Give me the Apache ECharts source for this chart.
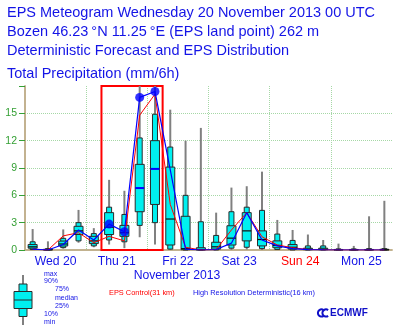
<!DOCTYPE html>
<html><head><meta charset="utf-8">
<script src="https://cdn.jsdelivr.net/npm/echarts@6/dist/echarts.min.js"></script>
<style>html,body{margin:0;padding:0;background:#fff}#c{width:400px;height:332px}</style>
</head><body><div id="c"></div>
<script>
// ---- data ----
const hours = [3,9,15,21,27,33,39,45,51,57,63,69,75,81,87,93,99,105,111,117,123,129,135,141];
const dayLabels = ['Wed 20','Thu 21','Fri 22','Sat 23','Sun 24','Mon 25'];
const epsMin = [0, 0, 0.15, 0.8, 0.3, 0.6, 0.2, 1.4, 0.6, 0, 0, 0, 0, 0, 0.05, 0, 0, 0, 0, 0, 0, 0, 0, 0];
const epsP10 = [0.05, 0, 0.26, 1.0, 0.45, 1.1, 0.9, 2.7, 3.0, 0.1, 0, 0, 0, 0.2, 0.3, 0.15, 0.05, 0, 0, 0, 0, 0, 0, 0];
const epsP25 = [0.2, 0, 0.44, 1.7, 0.7, 1.7, 1.5, 4.2, 5.0, 0.55, 0.03, 0, 0.1, 0.55, 1.0, 0.45, 0.25, 0.1, 0.03, 0.03, 0, 0, 0, 0];
const epsMed = [0.35, 0.03, 0.66, 2.1, 1.0, 2.5, 1.9, 6.8, 8.9, 3.4, 0.15, 0.05, 0.35, 1.3, 2.1, 1.15, 0.5, 0.3, 0.08, 0.08, 0.03, 0.03, 0.03, 0.03];
const epsP75 = [0.6, 0.08, 0.98, 2.6, 1.5, 4.1, 2.7, 9.4, 12.0, 9.1, 3.7, 0.25, 0.85, 2.66, 4.1, 2.1, 1.0, 0.6, 0.2, 0.2, 0.06, 0.06, 0.06, 0.08];
const epsP90 = [0.9, 0.15, 1.28, 3.0, 1.8, 4.7, 3.9, 12.3, 14.9, 11.3, 6.0, 3.1, 1.6, 4.2, 4.7, 4.35, 1.75, 1.05, 0.45, 0.45, 0.12, 0.12, 0.15, 0.15];
const epsMax = [2.3, 0.95, 2.26, 4.4, 2.4, 7.7, 6.5, 18, 18, 15.4, 12, 13.4, 4.1, 6.85, 7.0, 8.6, 3.3, 2.2, 1.7, 1.1, 0.7, 0.45, 3.7, 5.4];
const control = [0.1, 0.0, 1.55, 1.9, 0.8, 1.5, 1.0, 14.8, 17.1, 5.0, 0.3, 0.0, 0.05, 2.2, 4.1, 1.45, 0.55, 0.25, 0.05, 0.02, 0, 0, 0, 0];
const hres = [0.1, 0.0, 0.6, 2.2, 1.1, 2.84, 2.0, 16.75, 17.4, 8.8, 0.1, 0.0, 0.05, 0.75, 4.1, 1.1, 0.45, 0.15, 0.05, 0.02, 0, 0, 0, 0];
const hresDotIdx = [5, 6, 7, 8];
const blueMedianIdx = [7, 8];
const highlightRange = [30, 54];
const titleLines = [
  'EPS Meteogram Wednesday 20 November 2013 00 UTC',
  'Bozen 46.23\u2009\u00b0N 11.25\u2009\u00b0E (EPS land point) 262 m',
  'Deterministic Forecast and EPS Distribution',
  'Total Precipitation (mm/6h)'
];
const keyLabels = ['max', '90%', '75%', 'median', '25%', '10%', 'min'];

// ---- style ----
const BLUE = '#1414e6', RED = '#ff0000', GREEN = '#35a035', TAN = '#bfad88', GRIDC = '#a6d8a6';
const CYAN = '#00f0f0', EDGE = '#2a2a2a', WHISK = '#808080';
const FONT = '"Liberation Sans", Arial, sans-serif';

const boxData = hours.map((h, i) => [h, epsMin[i], epsP10[i], epsP25[i], epsMed[i], epsP75[i], epsP90[i], epsMax[i], blueMedianIdx.includes(i) ? 1 : 0]);

function renderBox(params, api) {
  const t = api.value(0);
  const c = k => api.coord([t, api.value(k)]);
  const pMin = c(1), p10 = c(2), p25 = c(3), pMed = c(4), p75 = c(5), p90 = c(6), pMax = c(7);
  const cx = pMin[0], nw = 5, ww = 9;
  const blue = api.value(8) === 1;
  return {
    type: 'group',
    children: [
      { type: 'line', shape: { x1: cx, y1: pMin[1], x2: cx, y2: pMax[1] }, style: { stroke: WHISK, lineWidth: 2 } },
      { type: 'rect', shape: { x: cx - nw / 2, y: p90[1], width: nw, height: Math.max(p10[1] - p90[1], 0.5) }, style: { fill: CYAN, stroke: EDGE, lineWidth: 1 } },
      { type: 'rect', shape: { x: cx - ww / 2, y: p75[1], width: ww, height: Math.max(p25[1] - p75[1], 0.5) }, style: { fill: CYAN, stroke: EDGE, lineWidth: 1 } },
      { type: 'line', shape: { x1: cx - ww / 2, y1: pMed[1], x2: cx + ww / 2, y2: pMed[1] }, style: { stroke: blue ? '#0000ff' : '#111', lineWidth: blue ? 2 : 1.2 } }
    ]
  };
}

const graphics = [];
const titleY = [13, 32, 51, 74];
titleLines.forEach((t, i) => graphics.push({
  type: 'text', left: 7, top: titleY[i] - 8,
  style: { text: t, font: '14.5px ' + FONT, fill: BLUE }
}));
graphics.push({ type: 'text', style: { text: 'November 2013', x: 177, y: 276, font: '12.2px ' + FONT, fill: BLUE, textAlign: 'center', textVerticalAlign: 'middle', align: 'center', verticalAlign: 'middle' } });
// box legend key
graphics.push({ type: 'line', shape: { x1: 23, y1: 275, x2: 23, y2: 325 }, style: { stroke: WHISK, lineWidth: 2 } });
graphics.push({ type: 'rect', shape: { x: 19, y: 284, width: 8, height: 32.5 }, style: { fill: CYAN, stroke: EDGE, lineWidth: 1 } });
graphics.push({ type: 'rect', shape: { x: 14, y: 291.5, width: 18, height: 17 }, style: { fill: CYAN, stroke: EDGE, lineWidth: 1 } });
graphics.push({ type: 'line', shape: { x1: 14, y1: 300, x2: 32, y2: 300 }, style: { stroke: EDGE, lineWidth: 1 } });
const keyPos = [[44, 274], [44, 281], [55, 289.5], [55, 298], [55, 306.5], [44, 314.5], [44, 322]];
keyLabels.forEach((t, i) => graphics.push({ type: 'text', style: { text: t, x: keyPos[i][0], y: keyPos[i][1], font: '7px ' + FONT, fill: BLUE, textVerticalAlign: 'middle', verticalAlign: 'middle' } }));
graphics.push({ type: 'text', style: { text: 'EPS Control(31 km)', x: 109, y: 293, font: '7.4px ' + FONT, fill: RED, textVerticalAlign: 'middle', verticalAlign: 'middle' } });
graphics.push({ type: 'text', style: { text: 'High Resolution Deterministic(16 km)', x: 193, y: 293, font: '7.4px ' + FONT, fill: BLUE, textVerticalAlign: 'middle', verticalAlign: 'middle' } });
// ECMWF logo
graphics.push({ type: 'arc', shape: { cx: 321.5, cy: 313, r: 3.6, startAngle: Math.PI * 0.3, endAngle: Math.PI * 1.7 }, style: { stroke: '#1010c8', lineWidth: 2, fill: null } });
graphics.push({ type: 'arc', shape: { cx: 326, cy: 313, r: 3.6, startAngle: Math.PI * 0.3, endAngle: Math.PI * 1.7 }, style: { stroke: '#1010c8', lineWidth: 2, fill: null } });
graphics.push({ type: 'text', style: { text: 'ECMWF', x: 330, y: 313, font: 'bold 10px ' + FONT, fill: '#1010c8', textVerticalAlign: 'middle', verticalAlign: 'middle' } });

const chart = echarts.init(document.getElementById('c'), null, { renderer: 'canvas' });
chart.setOption({
  animation: false,
  backgroundColor: '#fff',
  grid: { left: 25, right: 8, top: 86, bottom: 82, show: false },
  xAxis: [
    {
      type: 'value', min: 0, max: 144, interval: 12, position: 'bottom',
      axisLine: { show: true, lineStyle: { color: TAN, width: 1.5 } },
      axisTick: { show: false }, splitLine: { show: false },
      axisLabel: {
        margin: 6, fontSize: 12.2, fontFamily: FONT,
        formatter: v => ((v - 12) % 24 === 0 && v < 144) ? dayLabels[(v - 12) / 24] : '',
        color: (v) => ((v - 12) / 24 === 4 ? RED : BLUE)
      }
    },
    {
      type: 'value', min: 0, max: 144, interval: 24, position: 'top',
      axisLine: { show: true, lineStyle: { color: TAN, width: 1.5 } }, axisLabel: { show: false },
      axisTick: { show: false },
      splitLine: { show: true, showMinLine: false, showMaxLine: false, lineStyle: { color: GRIDC, type: 'dotted', width: 1 } }
    }
  ],
  yAxis: [
    {
      type: 'value', min: 0, max: 18, interval: 3, position: 'left',
      axisLine: { show: true, lineStyle: { color: TAN, width: 1.5 } },
      axisTick: { show: true, length: 6, lineStyle: { color: GREEN } },
      axisLabel: { margin: 8, fontSize: 10.5, fontFamily: FONT, color: GREEN, formatter: v => (v === 18 ? '' : String(v)) },
      splitLine: { show: true, showMinLine: false, showMaxLine: false, lineStyle: { color: GRIDC, type: 'dotted', width: 1 } }
    },
    {
      type: 'value', min: 0, max: 18, interval: 3, position: 'right',
      axisLine: { show: true, lineStyle: { color: TAN, width: 1.5 } },
      axisTick: { show: false }, axisLabel: { show: false }, splitLine: { show: false }
    }
  ],
  graphic: graphics,
  series: [
    {
      type: 'custom', name: 'EPS', xAxisIndex: 0, yAxisIndex: 0, renderItem: renderBox, data: boxData,
      encode: { x: 0, y: [1, 7] }, z: 2, silent: true
    },
    {
      type: 'line', name: 'EPS Control', xAxisIndex: 0, yAxisIndex: 0, data: hours.map((h, i) => [h, control[i]]),
      symbol: 'none', lineStyle: { color: RED, width: 1 }, itemStyle: { color: RED }, z: 3, silent: true,
      markArea: {
        silent: true,
        itemStyle: { color: 'rgba(0,0,0,0)', borderColor: RED, borderWidth: 2 },
        data: [[{ xAxis: highlightRange[0], yAxis: 0 }, { xAxis: highlightRange[1], yAxis: 18 }]]
      }
    },
    {
      type: 'line', name: 'HRES', xAxisIndex: 0, yAxisIndex: 0, data: hours.map((h, i) => [h, hres[i]]),
      symbol: 'none', lineStyle: { color: '#0000ff', width: 1.2 }, itemStyle: { color: '#0000ff' }, z: 4, silent: true
    },
    {
      type: 'scatter', name: 'HRES dots', xAxisIndex: 0, yAxisIndex: 0, data: hresDotIdx.map(i => [hours[i], hres[i]]),
      symbol: 'circle', symbolSize: 9, itemStyle: { color: '#0000ff' }, z: 5, silent: true
    }
  ]
});
</script>
</body></html>
